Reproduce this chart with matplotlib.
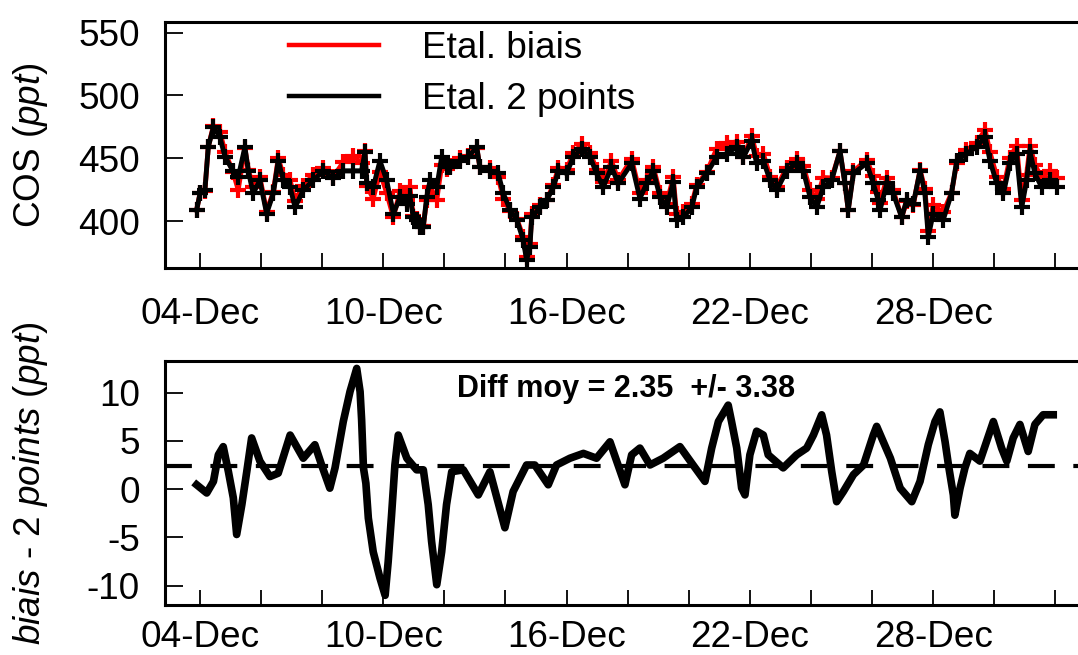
import numpy as np
import matplotlib.pyplot as plt

plt.rcParams['font.family'] = ['Liberation Sans', 'DejaVu Sans']
plt.rcParams['mathtext.fontset'] = 'custom'
plt.rcParams['mathtext.rm'] = 'Liberation Sans'
plt.rcParams['mathtext.it'] = 'Liberation Sans:italic'
plt.rcParams['axes.unicode_minus'] = False

# time axis: day of December (fractional)
t_cos = [3.89, 4.0, 4.16, 4.27, 4.44, 4.65, 4.82, 5.08, 5.25, 5.47,
         5.58, 5.74, 5.96, 6.18, 6.4, 6.56, 6.73, 6.95, 7.11, 7.38,
         7.71, 8.04, 8.36, 8.69, 9.02, 9.29, 9.4, 9.46, 9.67, 9.89,
         10.11, 10.33, 10.55, 10.77, 10.87, 10.98, 11.09, 11.2, 11.31, 11.42,
         11.53, 11.75, 11.91, 12.07, 12.18, 12.51, 12.78, 13.06, 13.16, 13.49,
         13.76, 13.93, 14.15, 14.37, 14.58, 14.69, 14.8, 14.86, 15.13, 15.35,
         15.57, 15.73, 16.0, 16.22, 16.49, 16.77, 16.98, 17.2, 17.47, 17.69,
         18.13, 18.4, 18.62, 18.84, 19.06, 19.28, 19.49, 19.6, 19.82, 20.1,
         20.26, 20.59, 20.91, 21.24, 21.57, 21.79, 22.06, 22.22, 22.44, 22.66,
         22.88, 23.2, 23.53, 23.75, 23.97, 24.19, 24.4, 24.68, 24.95, 25.11,
         25.22, 25.39, 25.82, 26.04, 26.2, 26.26, 26.48, 26.69, 26.97, 27.13,
         27.35, 27.57, 27.73, 27.84, 28.0, 28.33, 28.6, 28.77, 29.09, 29.42,
         29.7, 29.86, 30.08, 30.3, 30.51, 30.73, 30.9, 31.06, 31.17, 31.33,
         31.55, 31.82, 32.04]

# COS, calibration "2 points" (ppt)
cos_2pts = [408.7, 422, 424.6, 459, 474.8, 467, 451, 440, 435, 459,
            440, 422, 432.5, 406, 422, 448, 432.5, 427, 411, 424.6,
            432.5, 440, 434, 440, 440, 440, 455, 430, 427, 448,
            432.5, 406, 419, 414, 420, 403, 401, 395.5, 395.5, 419,
            432.5, 427, 451, 443, 443, 448, 451, 459, 443, 440,
            438, 422, 409, 401, 385, 369, 379.6, 403, 411, 416.7,
            427, 440, 438, 451, 457.7, 451, 438, 427, 443, 430,
            446, 418, 430, 440, 419, 411, 431, 401, 403, 411,
            427, 438, 451, 453.7, 459, 451, 464, 446, 448, 432.5,
            424.6, 440, 446, 440, 419, 411, 427, 432.5, 456, 430,
            408.7, 438, 446, 430, 416.7, 408.7, 430, 422, 403, 416.7,
            414, 440, 422, 387.5, 406, 401, 422, 448, 453.7, 459,
            467, 448, 430, 422, 446, 453.7, 411, 432.5, 455, 438,
            427, 432.5, 427]

# COS, calibration "biais" (ppt)
cos_biais = [409, 422, 424, 459, 476, 471, 455, 439, 425, 458,
             441, 427, 435, 407.5, 423.5, 450, 436.5, 432.6, 416, 428,
             437, 442.5, 435, 447, 452, 446, 456, 428, 418, 439,
             422.5, 403, 424, 417, 427, 404, 402, 396, 396, 417,
             427.5, 417, 444.5, 441.5, 444, 450, 452, 458.5, 443, 442,
             435, 418, 408, 402, 387.5, 371.5, 382, 405.5, 412.5, 417,
             429, 442.5, 441, 454, 461, 454.5, 441, 431, 448, 432.5,
             449.5, 422, 433, 443, 422, 414, 435, 405.4, 407, 413.5,
             429, 439, 457.5, 462, 463, 451, 468, 452, 453.6, 435.5,
             427, 442.5, 449.5, 444, 424.5, 417.5, 434.7, 434.3, 455.5, 430,
             409, 439.5, 449, 435.6, 423, 414.7, 434, 424.5, 403, 415.7,
             412.8, 440.8, 425.5, 392, 412.5, 407, 422.5, 446.5, 456.5, 462.3,
             472.5, 454.8, 435.5, 425.5, 450.5, 460, 416.5, 437, 460, 444.7,
             434.5, 440.2, 434.7]

# difference biais - 2 points (ppt)
t_diff = [3.89, 4.22, 4.44, 4.6, 4.76, 4.93, 5.09, 5.2, 5.37, 5.53,
          5.69, 5.96, 6.29, 6.56, 6.95, 7.38, 7.76, 7.98, 8.25, 8.42,
          8.69, 8.91, 9.13, 9.24, 9.29, 9.35, 9.43, 9.51, 9.67, 9.89,
          10.06, 10.16, 10.27, 10.38, 10.49, 10.77, 11.09, 11.31, 11.47, 11.58,
          11.75, 11.91, 12.07, 12.24, 12.62, 13.11, 13.49, 13.98, 14.25, 14.69,
          14.96, 15.4, 15.67, 16.11, 16.55, 16.98, 17.42, 17.64, 17.91, 18.13,
          18.4, 18.73, 19.16, 19.71, 20.14, 20.53, 20.75, 20.97, 21.29, 21.4,
          21.57, 21.73, 21.84, 22.0, 22.22, 22.44, 22.6, 23.09, 23.53, 23.86,
          24.08, 24.35, 24.51, 24.68, 24.84, 25.06, 25.39, 25.72, 26.04, 26.15,
          26.6, 26.92, 27.3, 27.57, 27.84, 28.06, 28.22, 28.39, 28.5, 28.66,
          28.71, 28.88, 29.04, 29.2, 29.53, 29.97, 30.24, 30.41, 30.62, 30.84,
          31.11, 31.33, 31.6, 31.93]
diff = [0.45, -0.4, 0.8, 3.55, 4.4, 1.8, -0.9, -4.7, -1.6, 1.8,
        5.3, 2.9, 1.3, 1.65, 5.6, 3.2, 4.6, 2.5, 0.1, 2.2,
        7.0, 10.1, 12.5, 10.1, 7.2, 2.2, 0.6, -3.0, -6.5, -9.2,
        -11.0, -7.5, -2.7, 2.5, 5.6, 3.2, 2.0, 2.0, -1.6, -5.4,
        -9.9, -6.5, -1.6, 1.8, 2.0, -0.6, 1.8, -4.0, -0.25, 2.5,
        2.5, 0.45, 2.5, 3.2, 3.7, 3.2, 4.9, 2.9, 0.45, 3.55,
        4.25, 2.5, 3.2, 4.4, 2.5, 0.8, 4.25, 7.0, 8.7, 7.0,
        4.25, 0.1, -0.6, 3.55, 6.0, 5.6, 3.55, 2.2, 3.55, 4.25,
        5.6, 7.7, 5.6, 1.8, -1.3, -0.25, 1.5, 2.5, 5.6, 6.5,
        3.2, 0.1, -1.3, 0.8, 4.6, 7.0, 8.0, 4.9, 2.5, -0.6,
        -2.7, 0.1, 2.2, 3.7, 2.9, 7.0, 4.25, 2.9, 5.3, 6.7,
        3.9, 6.7, 7.7, 7.7]
diff_mean = 2.35
diff_std = 3.38

tick_days = [4, 10, 16, 22, 28]
tick_labels = ['04-Dec', '10-Dec', '16-Dec', '22-Dec', '28-Dec']

W, H = 1078, 655
fig = plt.figure(figsize=(W / 100, H / 100), dpi=100)
ax1 = fig.add_axes([165 / W, 1 - 268 / H, 920 / W, 246.3 / H])
ax2 = fig.add_axes([165 / W, 1 - 605 / H, 920 / W, 244.3 / H])

fs = 26.6
minor_days = np.arange(4, 33, 2)
labels = dict(zip(tick_days, tick_labels))
for ax in (ax1, ax2):
    ax.set_xlim(2.854, 32.97)
    ax.set_xticks(minor_days)
    ax.set_xticklabels([labels.get(d, '') for d in minor_days])
    for s in ax.spines.values():
        s.set_linewidth(2.2)
    ax.tick_params(direction='in', length=11, width=1.3, labelsize=fs,
                   bottom=True, left=True, top=False, right=False)
    ax.tick_params(axis='y', pad=18, length=13)

# top: COS series
ax1.plot(t_cos, cos_biais, '-', color='red', lw=3.5, marker='+', ms=11, mew=3,
         label='Etal. biais')
ax1.plot(t_cos, cos_2pts, '-', color='black', lw=3.5, marker='+', ms=11, mew=3,
         label='Etal. 2 points')
ax1.set_ylim(362.7, 558.7)
ax1.set_yticks([400, 450, 500, 550])
ax1.tick_params(axis='x', pad=21)
ax1.set_ylabel(r'COS $\mathit{(ppt)}$', fontsize=fs)
ax1.yaxis.set_label_coords(-0.125, 0.5)

h_red = plt.Line2D([], [], color='red', lw=3.2)
h_blk = plt.Line2D([], [], color='black', lw=3.2)
ax1.legend([h_red, h_blk], ['Etal. biais', 'Etal. 2 points'], loc='upper left',
           bbox_to_anchor=(0.135, 0.962), frameon=False, fontsize=fs,
           handlelength=2.43, handletextpad=1.16, labelspacing=0.43,
           borderpad=0, borderaxespad=0)

# bottom: difference
ax2.axhline(diff_mean, color='black', lw=3, dashes=(6.45, 4.45))
ax2.plot(t_diff, diff, '-', color='black', lw=5.5)
ax2.set_ylim(-12.0, 13.3)
ax2.set_yticks([-10, -5, 0, 5, 10])
ax2.tick_params(axis='x', pad=11)
ax2.set_ylabel(r'$\mathit{biais}$ - 2 $\mathit{points\ (ppt)}$', fontsize=fs)
ax2.yaxis.set_label_coords(-0.125, 0.5)
ax2.text(17.94, 9.56, f'Diff moy = {diff_mean:.2f}  +/- {diff_std:.2f}',
         ha='center', va='baseline', fontsize=22, fontweight='bold')

fig.savefig('out.png', dpi=100)
